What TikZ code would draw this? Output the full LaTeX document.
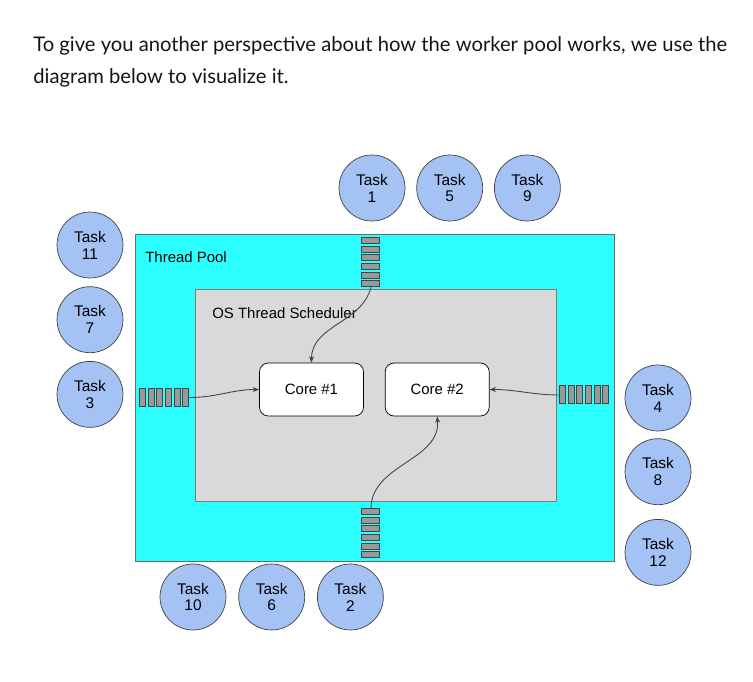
\documentclass[tikz,border=0pt]{standalone}
\usepackage{fontspec}
\setmainfont{Liberation Sans}
\newfontfamily\introfont{Lato}
\usepackage{xcolor}
\definecolor{cTask}{HTML}{A4C2F4}
\definecolor{cPool}{HTML}{2CFFFF}
\definecolor{cSched}{HTML}{D9D9D9}
\definecolor{cBar}{HTML}{999999}
\definecolor{cLine}{HTML}{434343}
\definecolor{cText}{HTML}{141414}
\usetikzlibrary{positioning,arrows.meta,calc}
\tikzset{
  node-task/.style={draw=cLine,fill=cTask,circle,minimum size=1.32cm,
    inner sep=0pt,align=center,font=\fontsize{8.8}{9.6}\selectfont},
  node-core/.style={draw=black,fill=white,rounded corners=5pt,
    minimum width=2.08cm,minimum height=1.06cm,inner sep=0pt,
    font=\fontsize{8.5}{10}\selectfont},
  node-pool/.style={draw=cLine!80,fill=cPool,minimum width=9.58cm,
    minimum height=6.54cm,inner sep=0pt},
  node-sched/.style={draw=cLine!70,fill=cSched,minimum width=7.22cm,
    minimum height=4.24cm,inner sep=0pt},
  node-label/.style={anchor=west,inner sep=0pt,font=\fontsize{8.5}{10}\selectfont},
  queue-v/.style={minimum width=0.36cm,minimum height=0.98cm,inner sep=0pt},
  queue-h/.style={minimum width=0.98cm,minimum height=0.36cm,inner sep=0pt},
  bar/.style={draw=cLine,fill=cBar,line width=0.5pt},
  arrow/.style={-{Stealth[length=1.3mm,width=1mm]},line width=0.5pt,draw=cLine},
  intro/.style={anchor=base west,inner sep=0pt,text=cText,
    font=\introfont\fontsize{11.5}{13}\selectfont},
}
\begin{document}
\begin{tikzpicture}[x=0.02cm,y=-0.02cm]
  \useasboundingbox (0,0) rectangle (753,682);
  % intro text
  \node[intro] (l1) at (33,52)
    {To give you another perspective about how the worker pool works, we use the};
  \node[intro] (l2) at (33,84) {diagram below to visualize it.};
  % containers
  \node[node-pool]  (pool)  at (374.5,397.5) {};
  \node[node-sched] (sched) at (375.5,395) {};
  \node[node-label] (lpool)  at (145,257) {Thread Pool};
  \node[node-label] (lsched) at (212,313) {OS Thread Scheduler};
  % cores
  \node[node-core] (c1) at (311.5,389.5) {Core \#1};
  \node[node-core,right=0.42cm of c1] (c2) {Core \#2};
  % queues
  \node[queue-v] (qtop) at (371,262.5) {};
  \node[queue-v] (qbot) at (371,533.5) {};
  \node[queue-h] (qlft) at (164.5,397.5) {};
  \node[queue-h] (qrgt) at (584.5,395) {};
  \foreach \i in {0,...,5} {
    \draw[bar] ($(qtop.north west)+(0,\i*8.6)$) rectangle +(18,6);
    \draw[bar] ($(qbot.north west)+(0,\i*8.6)$) rectangle +(18,6);
    \draw[bar] ($(qlft.north west)+(\i*8.6,0)$) rectangle +(6,18);
    \draw[bar] ($(qrgt.north west)+(\i*8.6,0)$) rectangle +(6,18);
  }
  % tasks
  \node[node-task] (t1) at (372,188) {Task\\1};
  \node[node-task,right=0.22cm of t1] (t5) {Task\\5};
  \node[node-task,right=0.22cm of t5] (t9) {Task\\9};
  \node[node-task] (t11) at (90,245) {Task\\11};
  \node[node-task,below=0.16cm of t11] (t7) {Task\\7};
  \node[node-task,below=0.16cm of t7] (t3) {Task\\3};
  \node[node-task] (t4) at (658,398) {Task\\4};
  \node[node-task,below=0.14cm of t4] (t8) {Task\\8};
  \node[node-task,below=0.28cm of t8] (t12) {Task\\12};
  \node[node-task] (t10) at (193,597) {Task\\10};
  \node[node-task,right=0.24cm of t10] (t6) {Task\\6};
  \node[node-task,right=0.24cm of t6] (t2) {Task\\2};
  % queues into cores
  \draw[arrow] (qtop.south) to[out=-105,in=90] (c1.north);
  \draw[arrow] (qlft.east) to[out=0,in=180] (c1.west);
  \draw[arrow] (qrgt.west) to[out=180,in=0] (c2.east);
  \draw[arrow] (qbot.north) to[out=90,in=-85] (c2.south);
\end{tikzpicture}
\end{document}
